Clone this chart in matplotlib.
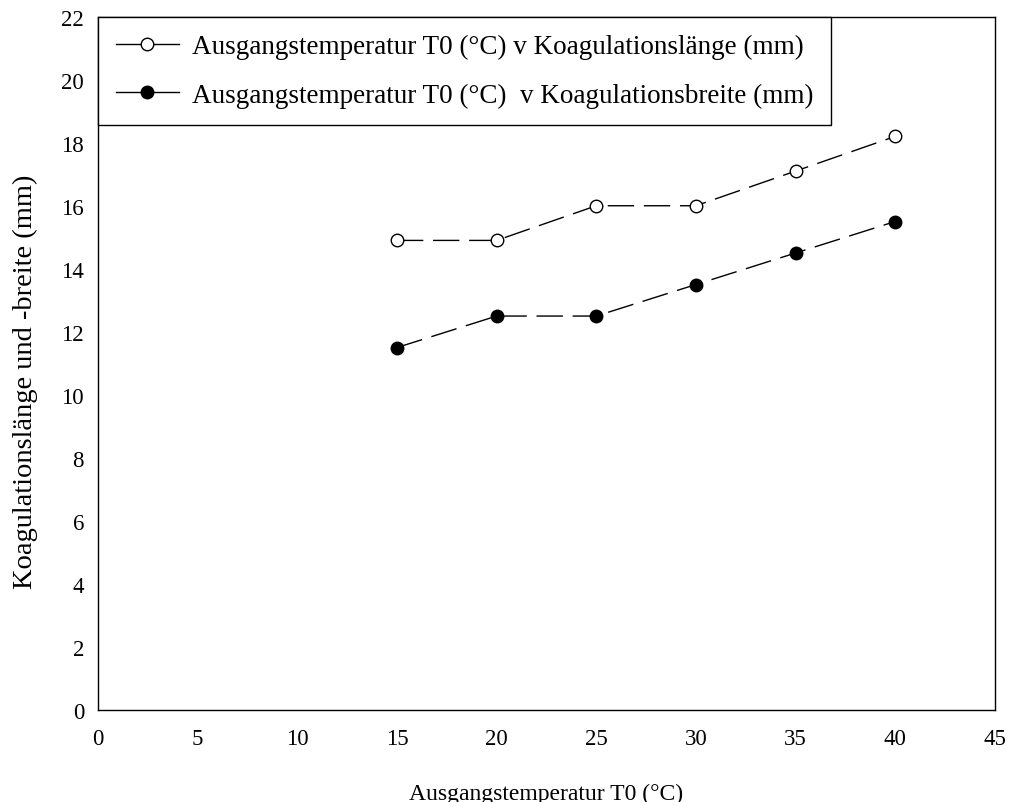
import matplotlib
matplotlib.use('Agg')
import matplotlib.pyplot as plt
from matplotlib.lines import Line2D

# Data
temps = [15, 20, 25, 30, 35, 40]
laenge = [14.9, 14.9, 16.0, 16.0, 17.1, 18.2]
breite = [11.5, 12.5, 12.5, 13.5, 14.5, 15.5]

x_ticks = list(range(0, 50, 5))
y_ticks = list(range(0, 24, 2))

label_laenge = 'Ausgangstemperatur T0 (°C) v Koagulationslänge (mm)'
label_breite = 'Ausgangstemperatur T0 (°C)  v Koagulationsbreite (mm)'

plt.rcParams['font.family'] = ['Liberation Serif', 'DejaVu Serif']

fig, ax = plt.subplots(figsize=(10.1, 8.03), dpi=100)
fig.subplots_adjust(left=0.097, right=0.985, top=0.978, bottom=0.1146)

ax.plot(temps, laenge, color='black', lw=1, dashes=(19, 7),
        marker='o', ms=9, mfc='white', mec='black', mew=1)
ax.plot(temps, breite, color='black', lw=1, dashes=(19, 7),
        marker='o', ms=9, mfc='black', mec='black', mew=1)

ax.set_xlim(0, 45)
ax.set_ylim(0, 22)
ax.set_xticks(x_ticks)
ax.set_yticks(y_ticks)
ax.tick_params(length=0, labelsize=16.5)
ax.tick_params(axis='x', pad=13)
ax.tick_params(axis='y', pad=10)
for s in ax.spines.values():
    s.set_linewidth(1)

ax.set_xlabel('Ausgangstemperatur T0 (°C)', fontsize=17, labelpad=24)
ax.set_ylabel('Koagulationslänge und -breite (mm)', fontsize=20.5, labelpad=17)
ax.yaxis.label.set_y(0.475)

handles = [
    Line2D([], [], color='black', lw=1, marker='o', ms=9, mfc='white', mec='black'),
    Line2D([], [], color='black', lw=1, marker='o', ms=9, mfc='black', mec='black'),
]
leg = ax.legend(handles, [label_laenge, label_breite], loc='upper left',
                bbox_to_anchor=(0, 1), borderaxespad=0, fancybox=False,
                edgecolor='black', framealpha=1, fontsize=19.5,
                handlelength=2.33, labelspacing=0.85, borderpad=0.65,
                handletextpad=0.5)
leg.get_frame().set_linewidth(1)

fig.savefig('out.png', dpi=100)
